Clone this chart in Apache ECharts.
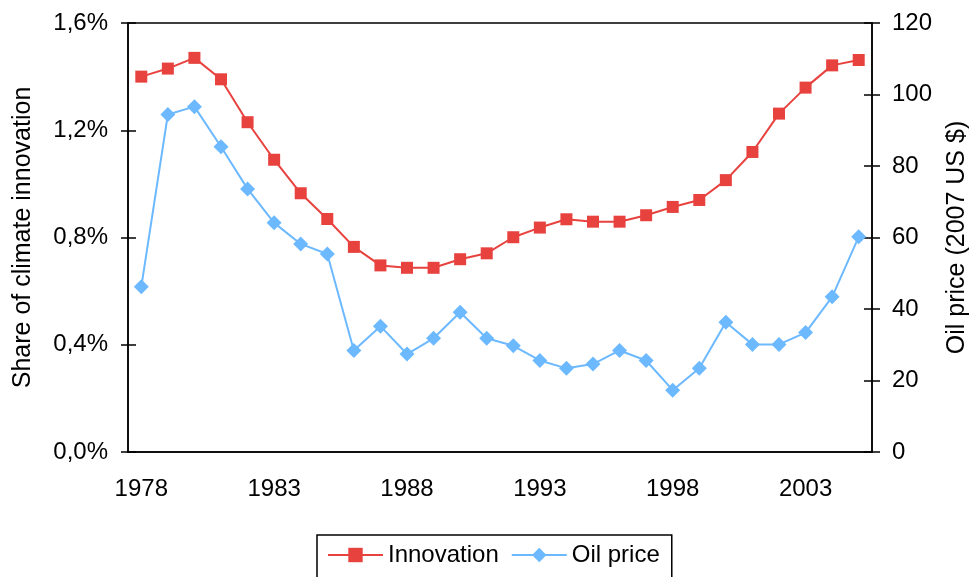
<!DOCTYPE html>
<html>
<head>
<meta charset="utf-8">
<script src="https://cdn.jsdelivr.net/npm/echarts@6/dist/echarts.min.js"></script>
<style>
html,body{margin:0;padding:0;background:#fff;}
#chart{width:975px;height:577px;}
</style>
</head>
<body>
<div id="chart"></div>
<script>
const years = ['1978','1979','1980','1981','1982','1983','1984','1985','1986','1987','1988','1989','1990','1991','1992','1993','1994','1995','1996','1997','1998','1999','2000','2001','2002','2003','2004','2005'];
// share of climate innovation, in percent
const innovation = [1.40,1.43,1.47,1.39,1.23,1.09,0.965,0.869,0.765,0.696,0.687,0.687,0.719,0.741,0.801,0.837,0.868,0.859,0.859,0.883,0.914,0.940,1.014,1.119,1.262,1.359,1.442,1.462];
// oil price, 2007 US $
const oilPrice = [46.2,94.4,96.6,85.4,73.6,64.1,58.2,55.4,28.4,35.2,27.4,31.8,39.1,31.8,29.7,25.6,23.4,24.6,28.4,25.6,17.3,23.4,36.3,30.1,30.1,33.4,43.4,60.2];
const leftTicks = {min:0, max:1.6, interval:0.4};
const rightTicks = {min:0, max:120, interval:20};

const FONT = 'Liberation Sans, Arial, sans-serif';
const RED = '#E8423F';
const BLUE = '#6DB9FF';

const chart = echarts.init(document.getElementById('chart'), null, {renderer:'canvas'});
const pctFmt = v => v.toFixed(1).replace('.', ',') + '%';

chart.setOption({
  animation:false,
  backgroundColor:'#fff',
  grid:{left:128, right:103, top:23, bottom:125, containLabel:false, outerBoundsMode:'none',
        show:true, borderColor:'#000', borderWidth:1.5, backgroundColor:'transparent'},
  legend:{
    left:317, top:535,
    padding:[8,12,30,10],
    borderColor:'#000', borderWidth:1.5,
    itemWidth:55, itemHeight:18, itemGap:12,
    textStyle:{fontFamily:FONT, fontSize:24, color:'#000'},
    data:['Innovation','Oil price']
  },
  xAxis:[{
    type:'category', data:years, boundaryGap:true,
    axisLine:{lineStyle:{color:'#000', width:1.5}},
    axisTick:{interval:4, length:9, lineStyle:{color:'#000', width:1.5}},
    axisLabel:{interval:4, margin:25, fontFamily:FONT, fontSize:24, color:'#000'},
    splitLine:{show:false}
  },{
    type:'category', data:years, boundaryGap:true, position:'bottom',
    axisLine:{show:false},
    axisTick:{interval:4, inside:true, length:9, lineStyle:{color:'#000', width:1.5}},
    axisLabel:{show:false},
    splitLine:{show:false}
  }],
  yAxis:[{
    type:'value', position:'left', min:leftTicks.min, max:leftTicks.max, interval:leftTicks.interval,
    name:'Share of climate innovation', nameLocation:'middle', nameGap:92,
    nameTextStyle:{fontFamily:FONT, fontSize:25, color:'#000'},
    axisLine:{show:true, lineStyle:{color:'#000', width:1.5}},
    axisTick:{show:true, length:7, lineStyle:{color:'#000', width:1.5}},
    axisLabel:{formatter:pctFmt, margin:20, fontFamily:FONT, fontSize:24, color:'#000'},
    splitLine:{show:false}
  },{
    type:'value', position:'right', min:rightTicks.min, max:rightTicks.max, interval:rightTicks.interval,
    name:'Oil price (2007 US $)', nameLocation:'middle', nameGap:73,
    nameTextStyle:{fontFamily:FONT, fontSize:25, color:'#000'},
    axisLine:{show:true, lineStyle:{color:'#000', width:1.5}},
    axisTick:{show:true, length:8, lineStyle:{color:'#000', width:1.5}},
    axisLabel:{margin:20, fontFamily:FONT, fontSize:24, color:'#000'},
    splitLine:{show:false}
  },{
    type:'value', position:'left', min:leftTicks.min, max:leftTicks.max, interval:leftTicks.interval,
    axisLine:{show:false},
    axisTick:{show:true, inside:true, length:8, lineStyle:{color:'#000', width:1.5}},
    axisLabel:{show:false}, splitLine:{show:false}
  },{
    type:'value', position:'right', min:rightTicks.min, max:rightTicks.max, interval:rightTicks.interval,
    axisLine:{show:false},
    axisTick:{show:true, inside:true, length:8, lineStyle:{color:'#000', width:1.5}},
    axisLabel:{show:false}, splitLine:{show:false}
  }],
  series:[{
    name:'Innovation', type:'line', xAxisIndex:0, yAxisIndex:0, data:innovation,
    symbol:'rect', symbolSize:12, showAllSymbol:true,
    itemStyle:{color:RED}, lineStyle:{color:RED, width:2}
  },{
    name:'Oil price', type:'line', xAxisIndex:0, yAxisIndex:1, data:oilPrice,
    symbol:'diamond', symbolSize:15, showAllSymbol:true,
    itemStyle:{color:BLUE}, lineStyle:{color:BLUE, width:2}
  }]
});
</script>
</body>
</html>
